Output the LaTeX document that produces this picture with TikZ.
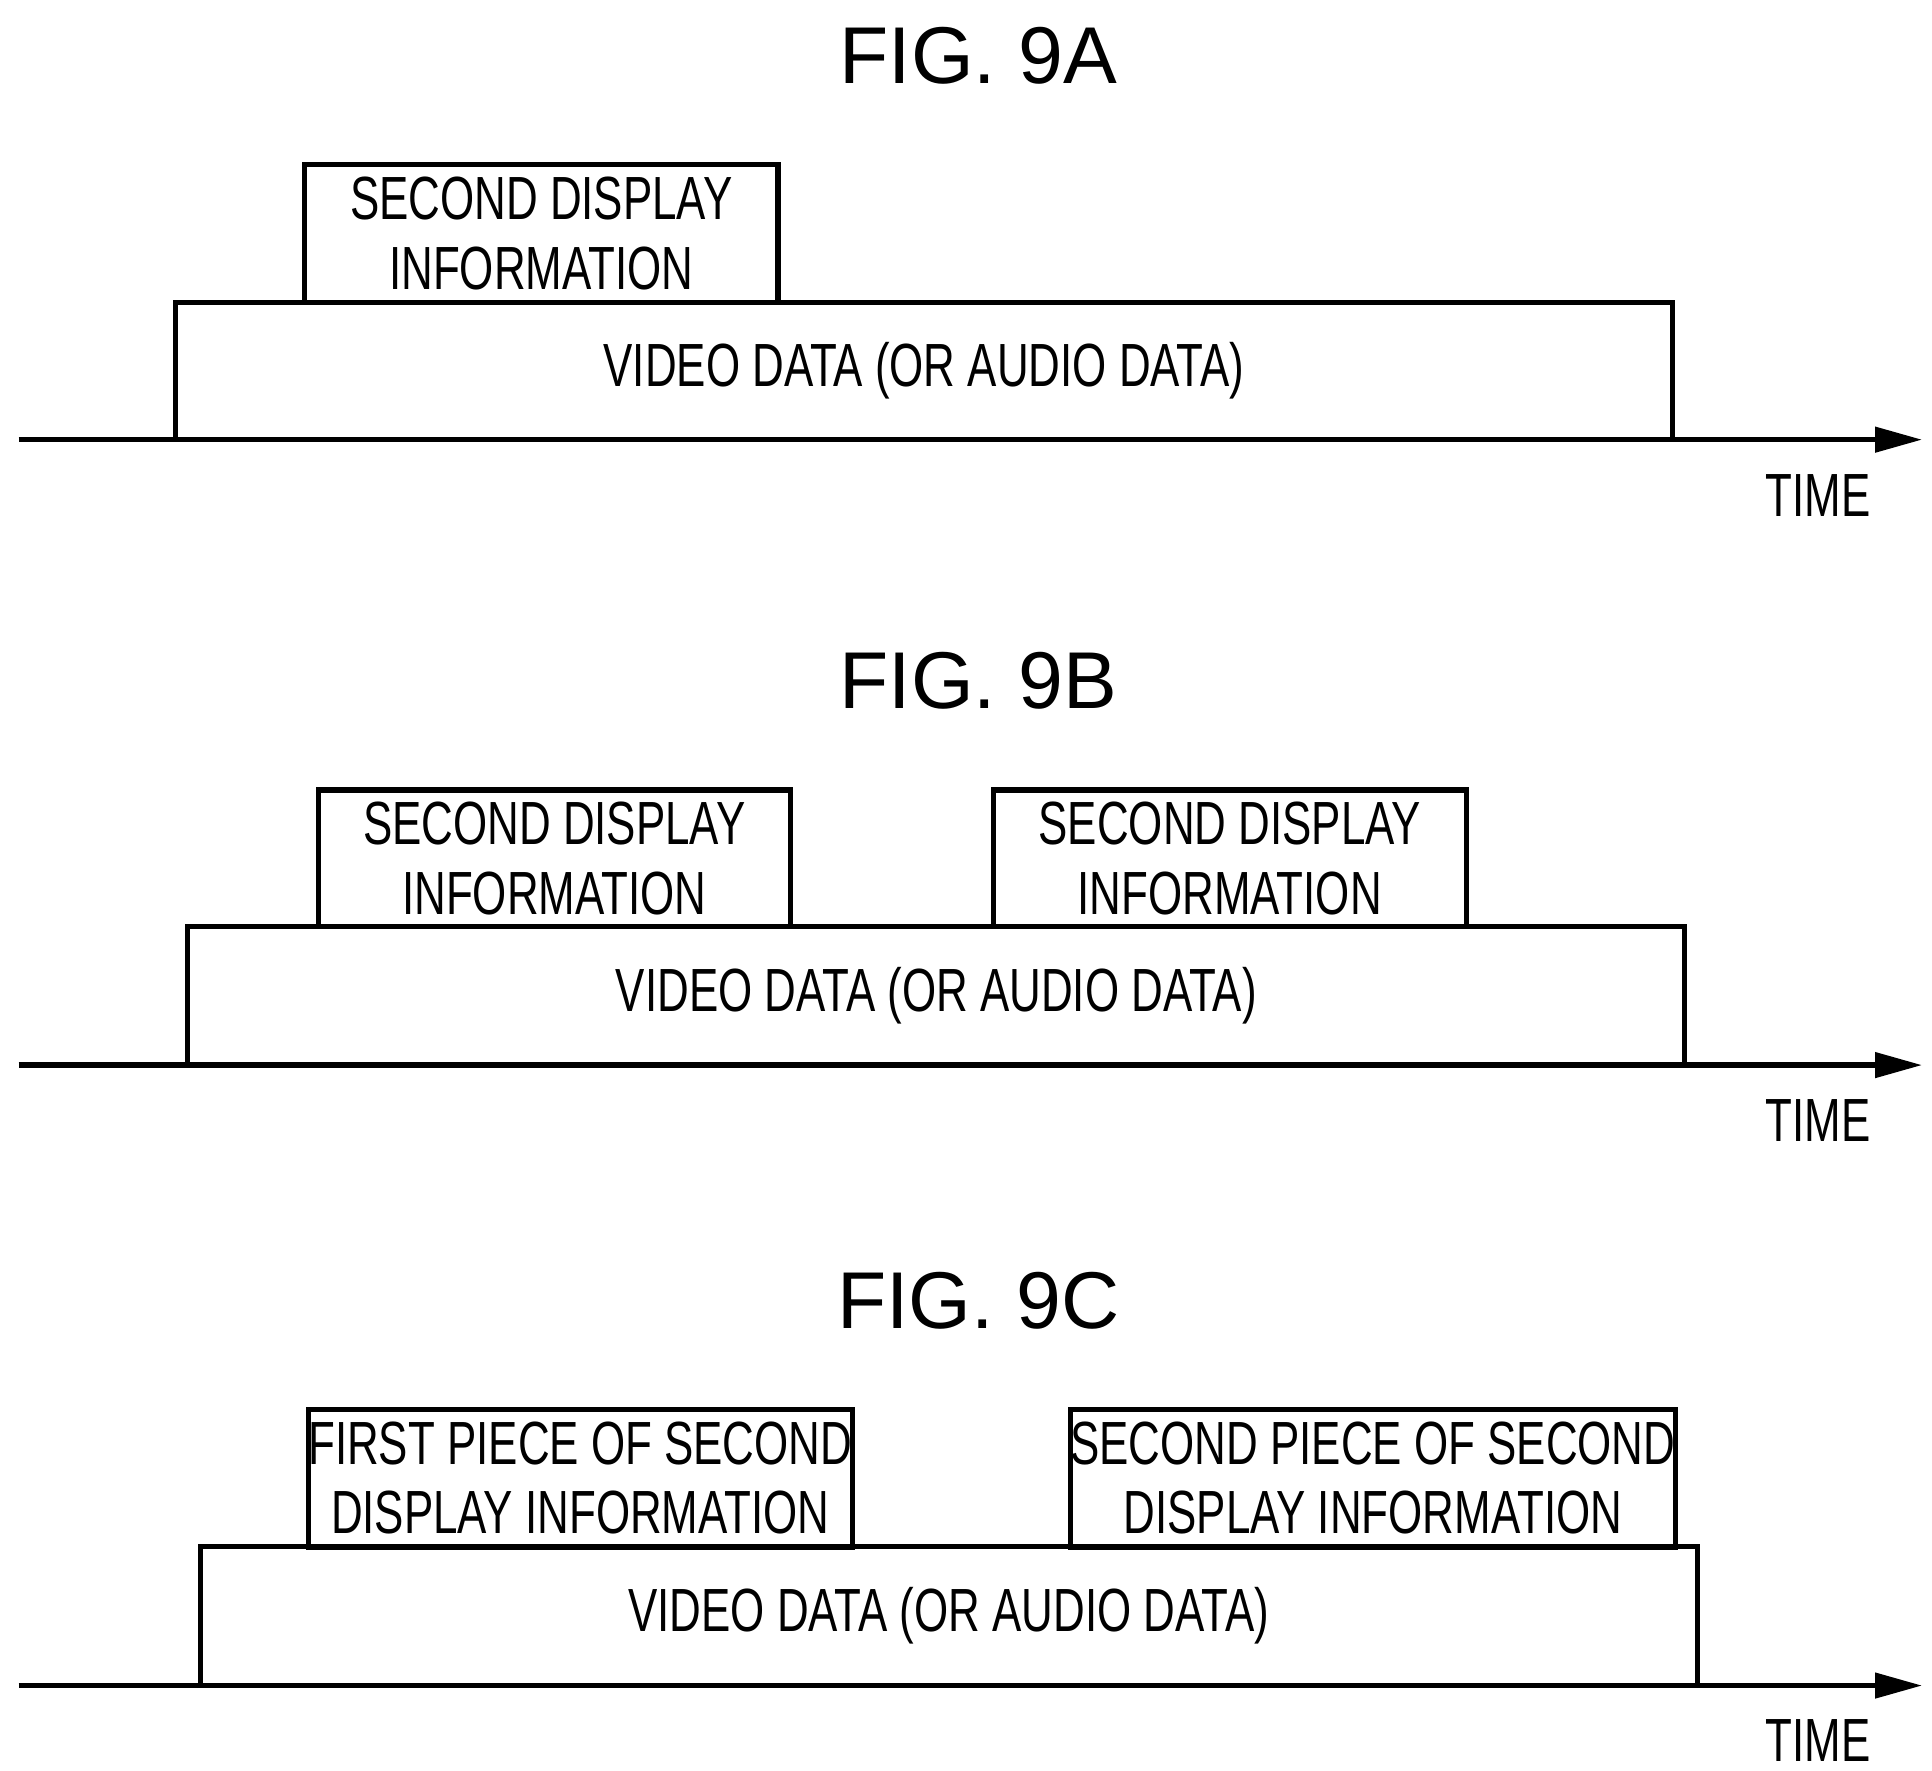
\documentclass[tikz,border=0pt]{standalone}
\usepackage{fontspec}
\setmainfont{Liberation Sans}
\newfontfamily\narrowfont{Liberation Sans}[FakeStretch=0.72]
\usetikzlibrary{arrows.meta}

\begin{document}
\begin{tikzpicture}[
  x=0.01cm, y=-0.01cm,
  box/.style={draw, line width=1.2pt, inner sep=0pt, align=center,
    font=\narrowfont\fontsize{14}{16}\selectfont},
  title/.style={font=\fontsize{18.5}{20}\selectfont},
  axis/.style={line width=1.2pt, -{Triangle[length=30pt*0.0+0.38cm, width=0.2cm]}}
]
\useasboundingbox (0,0) rectangle (1560,1430);

% FIG. 9A
\node [title] (titleA) at (790,45) {FIG. 9A};
\node [box, minimum width=382\pgfmathresult, minimum width=3.82cm, minimum height=1.11cm] (secA) at (437,188.5) {SECOND DISPLAY\\INFORMATION};
\node [box, minimum width=12.08cm, minimum height=1.11cm] (videoA) at (746,299.5) {VIDEO DATA (OR AUDIO DATA)};
\coordinate (startA) at (15,355);
\coordinate (endA) at (1552,355);
\draw [axis] (startA) -- (endA);
\node [box, draw=none] (timeA) at (1468,400) {TIME};

% FIG. 9B
\node [title] (titleB) at (790,550) {FIG. 9B};
\node [box, minimum width=3.81cm, minimum height=1.10cm] (secB1) at (447.5,693) {SECOND DISPLAY\\INFORMATION};
\node [box, minimum width=3.82cm, minimum height=1.10cm] (secB2) at (993,693) {SECOND DISPLAY\\INFORMATION};
\node [box, minimum width=12.08cm, minimum height=1.12cm] (videoB) at (756,804) {VIDEO DATA (OR AUDIO DATA)};
\coordinate (startB) at (15,860);
\coordinate (endB) at (1552,860);
\draw [axis] (startB) -- (endB);
\node [box, draw=none] (timeB) at (1468,905) {TIME};

% FIG. 9C
\node [title] (titleC) at (790,1050) {FIG. 9C};
\node [box, minimum width=4.03cm, minimum height=1.11cm] (secC1) at (468.5,1193.5) {FIRST PIECE OF SECOND\\DISPLAY INFORMATION};
\node [box, minimum width=4.03cm, minimum height=1.11cm] (secC2) at (1108.5,1193.5) {SECOND PIECE OF SECOND\\DISPLAY INFORMATION};
\node [box, minimum width=12.08cm, minimum height=1.12cm] (videoC) at (766,1305) {VIDEO DATA (OR AUDIO DATA)};
\coordinate (startC) at (15,1361);
\coordinate (endC) at (1552,1361);
\draw [axis] (startC) -- (endC);
\node [box, draw=none] (timeC) at (1468,1405) {TIME};
\end{tikzpicture}
\end{document}
